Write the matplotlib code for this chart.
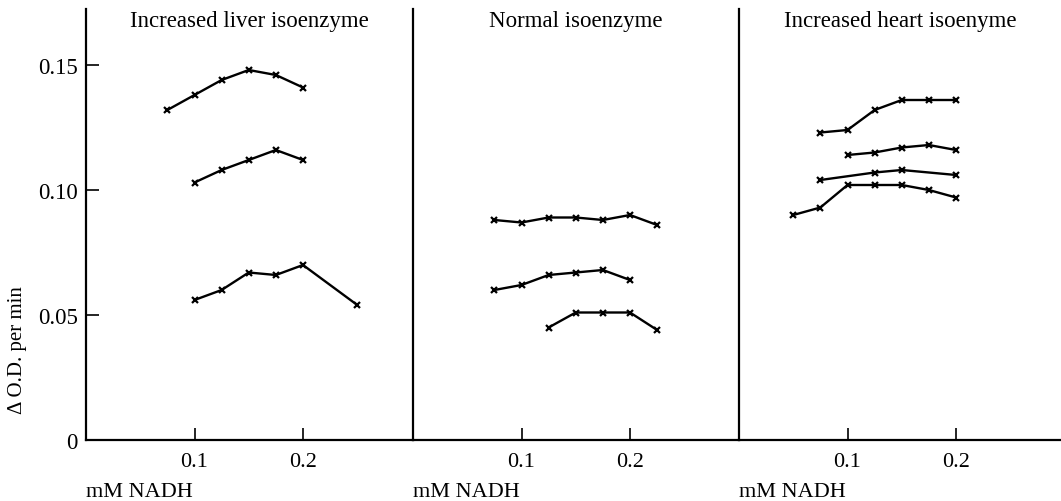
import matplotlib.pyplot as plt
from matplotlib.ticker import FixedLocator

plt.rcParams["font.family"] = ["Liberation Serif", "DejaVu Serif"]

# concentraciones (mM NADH) y velocidades (delta O.D. por minuto)
titles = ["Increased liver isoenzyme", "Normal isoenzyme", "Increased heart isoenyme"]

liver_x = [
    [0.075, 0.1, 0.125, 0.15, 0.175, 0.2],
    [0.1, 0.125, 0.15, 0.175, 0.2],
    [0.1, 0.125, 0.15, 0.175, 0.2, 0.25],
]
liver_y = [
    [0.132, 0.138, 0.144, 0.148, 0.146, 0.141],
    [0.103, 0.108, 0.112, 0.116, 0.112],
    [0.056, 0.060, 0.067, 0.066, 0.070, 0.054],
]

normal_x = [
    [0.075, 0.1, 0.125, 0.15, 0.175, 0.2, 0.225],
    [0.075, 0.1, 0.125, 0.15, 0.175, 0.2],
    [0.125, 0.15, 0.175, 0.2, 0.225],
]
normal_y = [
    [0.088, 0.087, 0.089, 0.089, 0.088, 0.090, 0.086],
    [0.060, 0.062, 0.066, 0.067, 0.068, 0.064],
    [0.045, 0.051, 0.051, 0.051, 0.044],
]

heart_x = [
    [0.075, 0.1, 0.125, 0.15, 0.175, 0.2],
    [0.1, 0.125, 0.15, 0.175, 0.2],
    [0.075, 0.125, 0.15, 0.2],
    [0.05, 0.075, 0.1, 0.125, 0.15, 0.175, 0.2],
]
heart_y = [
    [0.123, 0.124, 0.132, 0.136, 0.136, 0.136],
    [0.114, 0.115, 0.117, 0.118, 0.116],
    [0.104, 0.107, 0.108, 0.106],
    [0.090, 0.093, 0.102, 0.102, 0.102, 0.100, 0.097],
]

x_ticks = [0.1, 0.2]
y_ticks = [0, 0.05, 0.10, 0.15]
y_labels = ["0", "0.05", "0.10", "0.15"]

W, H = 1061, 502
fig = plt.figure(figsize=(W / 100, H / 100), dpi=100)

# geometria en pixeles: eje y de 441 (0) a 10, 1085 px por unidad de x
px_unit = 1085.0
y0, y1 = 441, 10
ymax = (y0 - y1) / 2500.0
lefts = [86, 413, 739]

panels = [(liver_x, liver_y), (normal_x, normal_y), (heart_x, heart_y)]

for k, (xs, ys) in enumerate(panels):
    left = lefts[k]
    right = lefts[k + 1] if k < 2 else W
    ax = fig.add_axes([left / W, (H - y0) / H, (right - left) / W, (y0 - y1) / H])
    for sx, sy in zip(xs, ys):
        ax.plot(sx, sy, "k-", lw=1.7, marker="x", ms=5, mew=1.6)
    ax.set_xlim(0, (right - left) / px_unit)
    ax.set_ylim(0, ymax)
    for s in ["top", "right"]:
        ax.spines[s].set_visible(False)
    ax.spines["left"].set_linewidth(1.6)
    ax.spines["bottom"].set_linewidth(1.6)
    ax.xaxis.set_major_locator(FixedLocator(x_ticks))
    ax.set_xticklabels(["0.1", "0.2"], fontsize=16)
    ax.tick_params(axis="x", direction="in", length=9, width=1.2, pad=9)
    if k == 0:
        ax.yaxis.set_major_locator(FixedLocator(y_ticks))
        ax.set_yticklabels(y_labels, fontsize=16.5)
        ax.tick_params(axis="y", direction="in", length=9, width=1.2, pad=6)
    else:
        ax.set_yticks([])
    ax.text(0.5, 1 - 12 / (y0 - y1), titles[k], transform=ax.transAxes,
            ha="center", va="center", fontsize=16.5)
    fig.text(left / W, 1 - 493 / H, "mM NADH", ha="left", va="center", fontsize=16)

fig.text(18 / W, 1 - 350 / H, "\u0394 O.D. per min", rotation=90,
         ha="center", va="center", fontsize=15)

fig.savefig("out.png", dpi=100)
